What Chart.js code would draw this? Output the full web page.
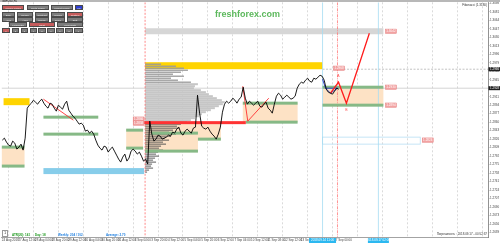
<!DOCTYPE html>
<html><head><meta charset="utf-8">
<script src="https://cdn.jsdelivr.net/npm/chart.js@4.4.0/dist/chart.umd.min.js"></script>
<style>
html,body{margin:0;padding:0;background:#fff;}
#wrap{position:relative;width:500px;height:244px;overflow:hidden;font-family:"Liberation Sans",Arial,sans-serif;}
canvas{position:absolute;left:0;top:0;}
.strip{position:absolute;left:0;top:0;width:500px;height:1.5px;background:#b8b8b8;}
.btn{position:absolute;height:5px;line-height:5px;font-size:2.5px;color:#eee;background:#7d7d7d;text-align:center;border:0.5px solid #4a4a4a;box-sizing:border-box;white-space:nowrap;overflow:hidden;}
.red{background:#c65c5c;}
.blue{background:#2f3fd0;}
.t{position:absolute;white-space:nowrap;line-height:4px;}
</style></head>
<body>
<div id="wrap">
<canvas id="c" width="500" height="244"></canvas>
<div class="strip"></div>
<div class="t" style="left:2px;top:0px;font-size:2.6px;color:#222">GBPUSD,H1</div>

<div class="btn red" style="left:2px;top:5px;width:22px">Volume Profile</div>
<div class="btn" style="left:27px;top:5px;width:22px">Delta Profile</div>
<div class="btn" style="left:51px;top:5px;width:22px">Market Profile</div>
<div class="btn blue" style="left:75px;top:5px;width:8px">0/1</div>

<div class="btn" style="left:2px;top:12px;width:13px">Daily</div>
<div class="btn" style="left:17px;top:12px;width:16px">Weekly</div>
<div class="btn" style="left:35px;top:12px;width:14px">Contract</div>
<div class="btn" style="left:51px;top:12px;width:14px">Volume</div>
<div class="btn red" style="left:67px;top:12px;width:16px">Custom</div>

<div class="btn" style="left:2px;top:17px;width:13px">Hour</div>
<div class="btn" style="left:17px;top:17px;width:16px">Area</div>
<div class="btn" style="left:35px;top:17px;width:14px">Range</div>
<div class="btn" style="left:51px;top:17px;width:14px">Spike</div>
<div class="btn" style="left:67px;top:17px;width:16px">Drift</div>

<div class="btn" style="left:9px;top:22px;width:18px">Less Data</div>
<div class="btn red" style="left:29px;top:22px;width:26px">Chart</div>
<div class="btn" style="left:57px;top:22px;width:26px">More Data</div>

<div class="btn red" style="left:2px;top:28px;width:8px">1</div>
<div class="btn" style="left:12px;top:28px;width:7px">2</div>
<div class="btn" style="left:21px;top:28px;width:7px">3</div>
<div class="btn" style="left:30px;top:28px;width:7px">4</div>
<div class="btn" style="left:38px;top:28px;width:8px">5</div>
<div class="btn" style="left:47px;top:28px;width:8px">6</div>
<div class="btn" style="left:56px;top:28px;width:8px">7</div>
<div class="btn" style="left:65px;top:28px;width:8px">8</div>
<div class="btn" style="left:74px;top:28px;width:9px">9</div>

<div class="t" style="left:215px;top:9px;font-size:9px;line-height:11px;font-weight:bold;color:#5cb85c">freshforex.com</div>
<div class="t" style="right:13px;top:3px;font-size:3px;color:#333">Fibonacci (1.3180)</div>

<div class="t" style="left:2px;top:230px;width:4px;height:5px;border:0.5px solid #999;font-size:3px;text-align:center">1</div>
<div class="t" style="left:12px;top:232.5px;font-size:3px;font-weight:bold;color:#1f9a1f">ATR(20): 141</div>
<div class="t" style="left:35px;top:232.5px;font-size:3px;font-weight:bold;color:#1f9a1f">Day: 18</div>
<div class="t" style="left:58px;top:232.5px;font-size:3px;font-weight:bold;color:#1e7fe0">Weekly: 204 / 102</div>
<div class="t" style="left:106px;top:232.5px;font-size:3px;font-weight:bold;color:#1e7fe0">Average: 2.70</div>
<div class="t" style="right:13px;top:232px;font-size:3px;color:#333">Погрешность : 2018.09.17 - 00:52:37</div>
</div>

<script>
// ---------- data ----------
const priceStartHour = -6, priceStepHours = 2;
const closePrices = [
 1.2824,1.2828,1.2820,1.2814,1.2812,1.2822,1.2818,1.2806,1.2810,1.2816,
 1.2804,1.2828,1.2888,1.2894,1.2898,1.2904,1.2900,1.2896,1.2902,1.2906,
 1.2898,1.2892,1.2888,1.2898,1.2896,1.2888,1.2882,1.2894,1.2890,1.2886,
 1.2896,1.2902,1.2884,1.2878,1.2872,1.2868,1.2862,1.2856,1.2858,1.2854,
 1.2842,1.2844,1.2838,1.2842,1.2836,1.2824,1.2814,1.2808,1.2804,1.2812,
 1.2810,1.2800,1.2806,1.2810,1.2802,1.2794,1.2786,1.2780,1.2790,1.2796,
 1.2782,1.2788,1.2802,1.2806,1.2802,1.2796,1.2800,1.2792,1.2782,1.2786,
 1.2776,1.2862,1.2836,1.2822,1.2826,1.2834,1.2832,1.2826,1.2828,1.2830,
 1.2834,1.2832,1.2840,1.2838,1.2846,1.2850,1.2838,1.2834,1.2842,1.2846,
 1.2842,1.2838,1.2848,1.2850,1.2914,1.2878,1.2852,1.2848,1.2846,1.2850,
 1.2842,1.2836,1.2832,1.2826,1.2836,1.2850,1.2880,1.2896,1.2902,1.2898,
 1.2902,1.2908,1.2904,1.2898,1.2906,1.2910,1.2930,1.2908,1.2896,1.2902,
 1.2898,1.2894,1.2898,1.2902,1.2892,1.2890,1.2896,1.2900,1.2888,1.2884,
 1.2878,1.2896,1.2912,1.2918,1.2914,1.2906,1.2910,1.2914,1.2910,1.2906,
 1.2908,1.2912,1.2928,1.2936,1.2940,1.2938,1.2944,1.2948,1.2942,1.2940,
 1.2948,1.2946,1.2950,1.2954,1.2952,1.2944,1.2926,1.2920,1.2918,1.2916,
 1.2922,1.2928,1.2926
];
const forecastHours  = [310.1, 317.8, 325.4, 347.5];
const forecastPrices = [1.2918, 1.2940, 1.2898, 1.3038];
const trend1Hours = [33.6, 62.4];          const trend1Prices = [1.2906, 1.2864];
const trend2Hours = [225.6, 230.4, 250.6];  const trend2Prices = [1.2932, 1.2862, 1.2908];
const waveHours  = [302.4, 305.3, 316.8, 310.1, 305.3];
const wavePrices = [1.2946, 1.2928, 1.2928, 1.2918, 1.2928];

// zones: [startHour, endHour, upperPrice, lowerPrice]
const demandZones = [
 [-6.7,15.4,1.2810,1.2774],[113.3,129.6,1.2846,1.2808],[131.5,182.4,1.2858,1.2800],
 [182.4,204.5,1.2860,1.2824],[225.6,278.4,1.2898,1.2860],[302.4,361.0,1.2930,1.2894]
];
// level lines: [startHour, endHour, price]
const levelLines = [
 [-6.7,15.4,1.2810],[-6.7,15.4,1.2772],[33.6,86.4,1.2870],[33.6,86.4,1.2836],
 [113.3,129.6,1.2844],[113.3,129.6,1.2808],[137.3,182.4,1.2838],[131.5,182.4,1.2802],
 [182.4,204.5,1.2826],[225.6,278.4,1.2898],[228.5,278.4,1.2860],[302.4,361.0,1.2930],[302.4,361.0,1.2894]
];
const yellowBands = [[-4.8,20.2,1.2908,1.2894],[131.5,302.4,1.2980,1.2966]];
const blueBand  = [33.6,130.6,1.2768,1.2756];
const greyBand  = [131.5,361.0,1.3048,1.3036];
const pocBand   = [130.6,228.5,1.2862,1.2856];
const targetBox = [302.4,396.5,1.2830,1.2816];
const bidPrice = 1.2928, pivotPrice = 1.2966, pivotFromHour = 302.4;

// volume profile
const profileStartHour = 131.5, profileHoursPerUnit = 0.96;
const profileTopPrice = 1.2976, profileBinStep = 0.0004;
const valueAreaHigh = 1.2936, valueAreaLow = 1.2864;
const profileVolumes = [16,31,39,43,36,28,39,26,33,46,53,50,49,56,61,64,68,72,77,80,
 78,74,70,66,61,57,54,50,46,42,36,32,34,28,24,31,26,20,24,18,21,16,14,18,13,11,14,10,8,11,7,6,8,4,2];

// price labels [hour, price]
const priceLabels = [[363.0,1.3042],[313.0,1.2968],[363.0,1.2930],[363.0,1.2894],[398.4,1.2824],[120.0,1.2866],[120.0,1.2858]];
const waveMarks = [[317.8,1.2952,'A'],[325.4,1.2884,'B']];

// vertical markers
const redDashedHours = [131.5], redDashDotHours = [316.8], cyanHours = [302.4, 356.2];
const cyanTimeLabels = ['2018.09.14 11:00','2018.09.17 02:00'];

// axes
const gridHours = [0,24,48,72,96,120,144,168,192,216,240,264,288,312,336,360,384,408,432,456];
const timeLabelHours = [-6.5,9.5,25.5,41.5,57.5,73.5,89.5,105.5,121.5,137.5,153.5,169.5,185.5,201.5,217.5,233.5,249.5,265.5,281.5,297.5,313.5];
const timeLabels = ['24 Aug 2018','27 Aug 12:00','28 Aug 04:00','28 Aug 20:00','29 Aug 12:00','30 Aug 04:00','30 Aug 20:00','31 Aug 12:00','3 Sep 04:00','3 Sep 20:00','4 Sep 12:00','5 Sep 04:00','5 Sep 20:00','6 Sep 12:00','7 Sep 04:00','10 Sep 12:00','11 Sep 08:00','12 Sep 12:00','13 Sep 04:00','13 Sep 20:00','17 Sep 00:00'];
const priceTicks = [1.3098,1.3081,1.3064,1.3047,1.3030,1.3013,1.2996,1.2979,1.2962,1.2945,1.2928,1.2911,1.2894,1.2877,1.2860,1.2843,1.2826,1.2809,1.2792,1.2775,1.2758,1.2741,1.2724,1.2707,1.2690,1.2673,1.2656,1.2639];

// ---------- styles ----------
const FONT = 'Liberation Sans';
const C = {orange:'#fde2c5', green:'#86b986', yellow:'#ffd400', blue:'#87cdea', grey:'#d6d6d6', poc:'#ff3333',
  target:'#b7dff3', pink:'#f2a2a2', profUp:'#9a9a9a', profVA:'#c6c6c6', profLow:'#4a4a4a'};

const pts = (xs, ys) => xs.map((h,i)=>({x:h, y:ys[i]}));

const drawPlugin = {
  id:'mtObjects',
  beforeDatasetsDraw(chart){
    const {ctx, chartArea:a, scales:{x,y}} = chart;
    const X=v=>x.getPixelForValue(v), Y=v=>y.getPixelForValue(v);
    const rect=(t0,t1,p0,p1,col)=>{const xa=X(t0),xb=X(t1),ya=Y(p0),yb=Y(p1);
      ctx.fillStyle=col; ctx.fillRect(Math.min(xa,xb),Math.min(ya,yb),Math.abs(xb-xa),Math.abs(yb-ya));};
    ctx.save();
    ctx.beginPath(); ctx.rect(a.left,a.top,a.right-a.left,a.bottom-a.top); ctx.clip();
    rect(greyBand[0],greyBand[1],greyBand[2],greyBand[3],C.grey);
    yellowBands.forEach(b=>rect(b[0],b[1],b[2],b[3],C.yellow));
    rect(blueBand[0],blueBand[1],blueBand[2],blueBand[3],C.blue);
    demandZones.forEach(z=>rect(z[0],z[1],z[2],z[3],C.orange));
    const x0 = X(profileStartHour);
    profileVolumes.forEach((v,i)=>{
      const p = profileTopPrice - i*profileBinStep;
      const inVA = p<=valueAreaHigh && p>=valueAreaLow;
      const col = inVA ? C.profVA : (p>valueAreaHigh ? C.profUp : C.profLow);
      const th = inVA ? 2.0 : (p>valueAreaHigh ? 1.3 : 0.9);
      const x1 = X(profileStartHour + v*profileHoursPerUnit);
      ctx.fillStyle = col; ctx.fillRect(x0, Y(p)-th/2, x1-x0, th);
    });
    ctx.strokeStyle=C.target; ctx.lineWidth=0.8;
    ctx.strokeRect(X(targetBox[0]),Y(targetBox[2]),X(targetBox[1])-X(targetBox[0]),Y(targetBox[3])-Y(targetBox[2]));
    ctx.strokeStyle='#c2c2c2'; ctx.lineWidth=0.7; ctx.setLineDash([]);
    ctx.beginPath(); ctx.moveTo(a.left,Y(bidPrice)); ctx.lineTo(a.right,Y(bidPrice)); ctx.stroke();
    ctx.strokeStyle='#a8a8a8'; ctx.setLineDash([2,1.5]);
    ctx.beginPath(); ctx.moveTo(X(pivotFromHour),Y(pivotPrice)); ctx.lineTo(a.right,Y(pivotPrice)); ctx.stroke();
    const vline=(h,col,dash,w)=>{ctx.strokeStyle=col;ctx.lineWidth=w;ctx.setLineDash(dash);
      ctx.beginPath();ctx.moveTo(X(h),a.top);ctx.lineTo(X(h),a.bottom);ctx.stroke();};
    cyanHours.forEach(h=>vline(h,'#a6dcf2',[],0.8));
    redDashedHours.forEach(h=>vline(h,'#ff6b6b',[2,1.5],0.8));
    redDashDotHours.forEach(h=>vline(h,'#ff7a7a',[3,1,1,1],0.8));
    ctx.setLineDash([]);
    levelLines.forEach(l=>rect(l[0],l[1],l[2]+0.0003,l[2]-0.0003,C.green));
    rect(pocBand[0],pocBand[1],pocBand[2],pocBand[3],C.poc);
    ctx.restore();
  },
  afterDatasetsDraw(chart){
    const {ctx, scales:{x,y}} = chart;
    const X=v=>x.getPixelForValue(v), Y=v=>y.getPixelForValue(v);
    ctx.save();
    ctx.font = '3px "'+FONT+'"'; ctx.textBaseline='middle';
    priceLabels.forEach(([h,p])=>{
      const px=X(h), py=Y(p);
      ctx.fillStyle=C.pink; ctx.fillRect(px,py-2.2,11,4.4);
      ctx.strokeStyle='#e07070'; ctx.lineWidth=0.4; ctx.strokeRect(px,py-2.2,11,4.4);
      ctx.fillStyle='#fff'; ctx.textAlign='center'; ctx.fillText(p.toFixed(4),px+5.5,py+0.2);
    });
    ctx.fillStyle='#ff5a5a'; ctx.font='3.5px "'+FONT+'"';
    waveMarks.forEach(([h,p,t])=>{ctx.textAlign='center';ctx.fillText(t,X(h),Y(p));});
    ctx.restore();
  },
  afterDraw(chart){
    const {ctx, chartArea:a, scales:{x,y}} = chart;
    const X=v=>x.getPixelForValue(v), Y=v=>y.getPixelForValue(v);
    ctx.save();
    ctx.font='3px "'+FONT+'"'; ctx.textBaseline='middle'; ctx.textAlign='left';
    [pivotPrice,bidPrice].forEach(p=>{
      const py=Y(p); ctx.fillStyle='#222'; ctx.fillRect(a.right+0.5,py-2,11.5,4);
      ctx.fillStyle='#fff'; ctx.fillText(p.toFixed(4),a.right+2,py+0.2);
    });
    ctx.textAlign='center';
    cyanHours.forEach((h,i)=>{
      const px=X(h), w = i===0?27:21;
      ctx.fillStyle='#2cb8f0'; ctx.fillRect(px-w/2,a.bottom+1,w,5);
      ctx.fillStyle='#fff'; ctx.fillText(cyanTimeLabels[i],px,a.bottom+3.6);
    });
    ctx.restore();
  }
};

new Chart(document.getElementById('c'), {
  type:'line',
  data:{datasets:[
    {data: closePrices.map((v,i)=>({x:priceStartHour+i*priceStepHours, y:v})), borderColor:'#000', borderWidth:0.9, pointRadius:0, tension:0},
    {data: pts(forecastHours,forecastPrices), borderColor:'#ff1c1c', borderWidth:1.3, pointRadius:0},
    {data: pts(trend1Hours,trend1Prices), borderColor:'#ff3030', borderWidth:0.9, pointRadius:0},
    {data: pts(trend2Hours,trend2Prices), borderColor:'#ff3030', borderWidth:0.9, pointRadius:0},
    {data: pts(waveHours,wavePrices), borderColor:'#2030c0', borderWidth:0.9, pointRadius:0}
  ]},
  options:{
    responsive:false, animation:false, maintainAspectRatio:false,
    layout:{padding:{top:2,left:0,right:0,bottom:0}},
    plugins:{legend:{display:false}, tooltip:{enabled:false}},
    scales:{
      x:{type:'linear', position:'bottom', min:-6.72, max:461.76,
        afterBuildTicks:s=>{s.ticks=gridHours.map(v=>({value:v}));},
        grid:{color:'#c2c2c2', lineWidth:0.6, drawTicks:false},
        border:{display:false, dash:[2,2]},
        ticks:{display:false},
        afterFit:s=>{s.height=0;}
      },
      x2:{type:'linear', position:'bottom', min:-6.72, max:461.76,
        afterBuildTicks:s=>{s.ticks=timeLabelHours.map(v=>({value:v}));},
        grid:{display:false, drawTicks:false},
        border:{display:true, color:'#8c8c8c', width:0.8},
        ticks:{autoSkip:false, maxRotation:0, minRotation:0, align:'start', padding:1.8,
          font:{size:3, family:FONT}, color:'#444', callback:(v,i)=>timeLabels[i]},
        afterFit:s=>{s.height=7;}
      },
      y:{type:'linear', position:'right', min:1.2630, max:1.3100,
        afterBuildTicks:s=>{s.ticks=priceTicks.map(v=>({value:v}));},
        grid:{drawOnChartArea:false, drawTicks:true, tickLength:1.5, color:'#777', lineWidth:0.6},
        border:{display:true, color:'#777', width:0.8},
        ticks:{padding:0.5, font:{size:3, family:FONT}, color:'#444', callback:v=>v.toFixed(4)},
        afterFit:s=>{s.width=12;}
      }
    }
  },
  plugins:[drawPlugin]
});
</script>
</body></html>
